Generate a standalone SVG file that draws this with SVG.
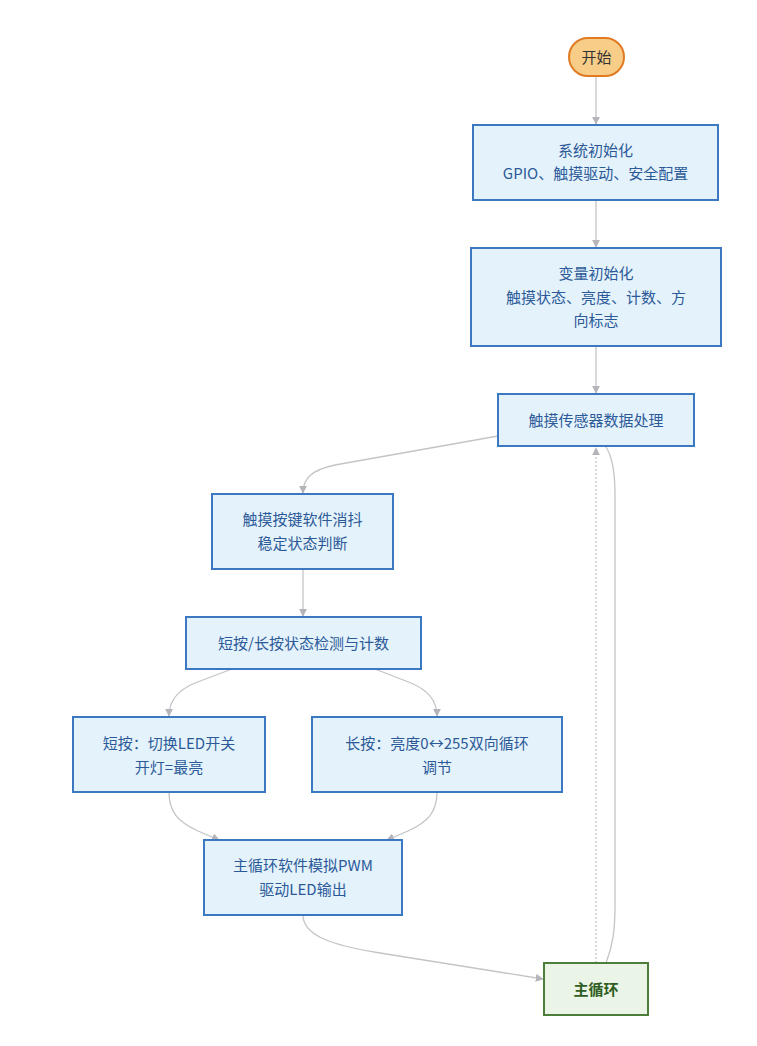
<svg xmlns="http://www.w3.org/2000/svg" width="757" height="1046" viewBox="0 0 757 1046">
<defs>
<style>
.n rect{fill:#e4f2fc;stroke:#3b78c1;stroke-width:2}
.n text{font-family:"Noto Sans CJK SC","Liberation Sans",sans-serif;font-size:15px;fill:#2c5a98;text-anchor:middle;dominant-baseline:central}
.e path{fill:none;stroke:#c4c4c8;stroke-width:1.3}
.dot{stroke-dasharray:2 2}
</style>
<marker id="a" viewBox="0 0 10 10" refX="9" refY="5" markerWidth="8" markerHeight="8" orient="auto" markerUnits="userSpaceOnUse">
<path d="M0,0 L10,5 L0,10 z" fill="#b4b4ba"/>
</marker>
</defs>
<rect width="757" height="1046" fill="#ffffff"/>
<g id="connectors" class="e">
<path d="M596,76 L596,124" marker-end="url(#a)"/>
<path d="M596,200 L596,247" marker-end="url(#a)"/>
<path d="M596,346 L596,393" marker-end="url(#a)"/>
<path d="M498,436 L335,465 C312,470 303,478 303,493" marker-end="url(#a)"/>
<path d="M303,569 L303,616" marker-end="url(#a)"/>
<path d="M232,669 L195,683 C178,690 169,700 169,716" marker-end="url(#a)"/>
<path d="M375,669 L411,683 C428,690 437,700 437,716" marker-end="url(#a)"/>
<path d="M169,792 C169,812 178,822 198,831 L219,840" marker-end="url(#a)"/>
<path d="M437,792 C437,812 428,822 408,831 L387,840" marker-end="url(#a)"/>
<path d="M303,915 C303,935 330,945 380,953 L543,979" marker-end="url(#a)"/>
<path class="dot" d="M596,963 L596,448" marker-end="url(#a)"/>
<path d="M606,963 C613,945 615,930 615,905 L615,495 C615,470 612,456 606,447"/>
</g>
<g id="start">
<rect x="569" y="38" width="55" height="38" rx="19" fill="#f7cd88" stroke="#e07b24" stroke-width="2"/>
<text x="596.5" y="56" font-family="Noto Sans CJK SC,Liberation Sans,sans-serif" font-size="15" fill="#333" text-anchor="middle" dominant-baseline="central">开始</text>
</g>
<g id="sysinit" class="n">
<rect x="473" y="125" width="245" height="75"/>
<text x="595.5" y="149">系统初始化</text>
<text x="595.5" y="172">GPIO、触摸驱动、安全配置</text>
</g>
<g id="varinit" class="n">
<rect x="471" y="248" width="250" height="98"/>
<text x="596" y="272">变量初始化</text>
<text x="596" y="296">触摸状态、亮度、计数、方</text>
<text x="596" y="319">向标志</text>
</g>
<g id="touch" class="n">
<rect x="498" y="394" width="196" height="52"/>
<text x="596" y="419">触摸传感器数据处理</text>
</g>
<g id="debounce" class="n">
<rect x="212" y="494" width="181" height="75"/>
<text x="302.5" y="518">触摸按键软件消抖</text>
<text x="302.5" y="542">稳定状态判断</text>
</g>
<g id="detect" class="n">
<rect x="186" y="617" width="235" height="52"/>
<text x="303.5" y="642">短按/长按状态检测与计数</text>
</g>
<g id="short" class="n">
<rect x="73" y="717" width="192" height="75"/>
<text x="169" y="742">短按：切换LED开关</text>
<text x="169" y="766">开灯=最亮</text>
</g>
<g id="long" class="n">
<rect x="312" y="717" width="250" height="75"/>
<text x="437" y="742">长按：亮度0↔255双向循环</text>
<text x="437" y="766">调节</text>
</g>
<g id="pwm" class="n">
<rect x="204" y="840" width="198" height="75"/>
<text x="303" y="864">主循环软件模拟PWM</text>
<text x="303" y="888">驱动LED输出</text>
</g>
<g id="mainloop">
<rect x="544" y="963" width="104" height="52" fill="#eaf4e7" stroke="#4b7d3b" stroke-width="2"/>
<text x="596" y="988" font-family="Noto Sans CJK SC,Liberation Sans,sans-serif" font-size="15" font-weight="bold" fill="#2f5d22" text-anchor="middle" dominant-baseline="central">主循环</text>
</g>
</svg>
